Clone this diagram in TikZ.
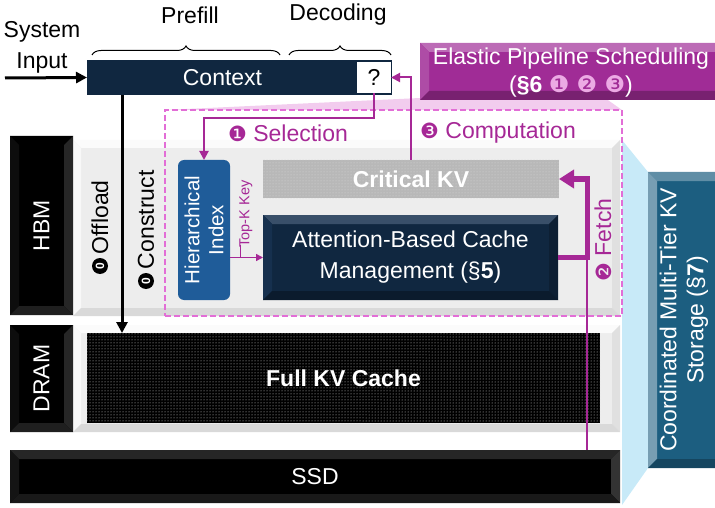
\documentclass[tikz,border=0pt]{standalone}
\usepackage{fontspec}
\setmainfont{Liberation Sans}
\newfontfamily\dv{DejaVu Sans}
\usetikzlibrary{arrows.meta,decorations.pathreplacing,patterns,calc}
\definecolor{navy}{RGB}{16,39,64}
\definecolor{navyb}{RGB}{22,48,78}
\definecolor{mag}{RGB}{166,40,150}
\definecolor{dashmag}{RGB}{226,110,214}
\definecolor{lpink}{RGB}{242,204,238}
\definecolor{circpink}{RGB}{236,170,228}
\definecolor{lblue}{RGB}{200,234,248}
\definecolor{tealc}{RGB}{28,94,128}
\definecolor{panelc}{RGB}{237,237,237}
\definecolor{idxblue}{RGB}{31,92,153}
\definecolor{elastic}{RGB}{160,44,150}
\newcommand\bev[6]{%
 \fill[#3] (#1.north west) -- (#1.north east) -- ($(#1.north east)+(-#2,#2)$) -- ($(#1.north west)+(#2,#2)$) -- cycle;
 \fill[#4] (#1.north west) -- (#1.south west) -- ($(#1.south west)+(#2,-#2)$) -- ($(#1.north west)+(#2,#2)$) -- cycle;
 \fill[#5] (#1.north east) -- (#1.south east) -- ($(#1.south east)+(-#2,-#2)$) -- ($(#1.north east)+(-#2,#2)$) -- cycle;
 \fill[#6] (#1.south west) -- (#1.south east) -- ($(#1.south east)+(-#2,-#2)$) -- ($(#1.south west)+(#2,-#2)$) -- cycle;
}
\tikzset{
  rbox/.style={anchor=north west, inner sep=0pt, outer sep=0pt},
  blackbox/.style={rbox, fill=black, text=white},
  panelbox/.style={rbox, fill=panelc},
  lbl/.style={inner sep=0pt, outer sep=0pt},
  zcirc/.style={circle, fill=black, text=white, inner sep=0pt, minimum size=16pt, font=\fontsize{12}{12}\selectfont\bfseries, rotate=90},
  blk/.style={line width=3pt, -{Triangle[length=11pt,width=11pt]}},
  magarrow/.style={draw=mag, line width=2pt, -{Triangle[length=9pt,width=9pt]}},
  magthin/.style={draw=mag, line width=1.5pt},
  fetch/.style={draw=mag, line width=5pt, -{Triangle[length=15pt,width=18pt]}},
  brc/.style={decorate, decoration={brace, amplitude=9pt}, line width=1pt},
}
\begin{document}
\begin{tikzpicture}[x=1pt,y=-1pt,font=\fontsize{23}{31}\selectfont]
\useasboundingbox (0,0) rectangle (715,508);
\clip (0,0) rectangle (715,508);
% projections
\fill[lpink] (420,98) -- (605,98) -- (622,110) -- (165,110) -- cycle;
\fill[lblue] (622,140) -- (648,172) -- (648,468) -- (622,505) -- cycle;
% panels
\node[panelbox, minimum width=547pt, minimum height=176pt] (hbmpanel) at (73,140) {};
\bev{hbmpanel}{8}{white!80!panelc}{white!60!panelc}{black!12}{black!15}
\node[panelbox, minimum width=547pt, minimum height=107pt] (drampanel) at (73,325) {};
\bev{drampanel}{8}{white!80!panelc}{white!60!panelc}{black!12}{black!15}
% tier labels
\node[blackbox, minimum width=63pt, minimum height=179pt] (hbm) at (10,136) {};
\bev{hbm}{9}{black}{black!95}{black!85}{black!88}
\node[lbl, rotate=90, text=white] at (hbm.center) {HBM};
\node[blackbox, minimum width=63pt, minimum height=107pt] (dram) at (10,325) {};
\bev{dram}{9}{black}{black!95}{black!85}{black!88}
\node[lbl, rotate=90, text=white] at (dram.center) {DRAM};
\node[blackbox, minimum width=610pt, minimum height=53pt] (ssd) at (10,450) {};
\bev{ssd}{9}{black!85}{black!92}{black!80}{black!90}
\node[lbl, text=white] at (ssd.center) {SSD};
% full KV cache
\node[rbox, fill=black, postaction={pattern=dots, pattern color=white!85!black}, minimum width=513pt, minimum height=90pt] (fullkv) at (87,333) {};
\node[lbl, text=white, font=\fontsize{23}{26}\selectfont\bfseries] at (fullkv.center) {Full KV Cache};
% dashed box
\node[rbox, draw=dashmag, dashed, line width=1.5pt, dash pattern=on 6pt off 3pt, minimum width=457pt, minimum height=206pt] (sched) at (165,110) {};
% inner boxes
\node[rbox, fill=idxblue, rounded corners=6pt, minimum width=52pt, minimum height=140pt] (idx) at (178,160) {};
\node[lbl, rotate=90, text=white, align=center, font=\fontsize{20.5}{24}\selectfont] at (idx.center) {Hierarchical\\Index};
\node[rbox, fill=black!28, postaction={pattern=dots, pattern color=white!85!black}, minimum width=296pt, minimum height=38pt] (crit) at (263,160) {};
\node[lbl, text=white, font=\fontsize{23}{26}\selectfont\bfseries] at (crit.center) {Critical KV};
\node[rbox, fill=navy, minimum width=295pt, minimum height=85pt] (attn) at (263,215) {};
\bev{attn}{9}{navyb!85!white}{navyb}{navy!80!black}{navy!70!black}
\node[lbl, text=white, align=center] at (attn.center) {Attention-Based Cache\\Management (§\textbf{5})};
% context
\node[rbox, fill=navy, minimum width=305pt, minimum height=35pt] (ctx) at (87,60) {};
\node[lbl, text=white] at ($(ctx.center)+(-17,0)$) {Context};
\node[rbox, fill=white, minimum width=34pt, minimum height=31pt] (q) at (357,62) {};
\node[lbl] at (q.center) {?};
% elastic
\node[rbox, fill=elastic, minimum width=305pt, minimum height=57pt] (elas) at (420,43) {};
\bev{elas}{9}{elastic!70!white}{elastic!85!white}{elastic!80!black}{elastic!75!black}
\node[lbl, text=white, align=center, font=\fontsize{23}{28}\selectfont] at (571,73) {Elastic Pipeline Scheduling\\(\textbf{§6} {\dv\fontsize{23}{20}\selectfont\color{circpink}❶ ❷ ❸})};
% storage
\node[rbox, fill=tealc, minimum width=77pt, minimum height=296pt] (stor) at (648,172) {};
\bev{stor}{9}{tealc!70!white}{tealc!60!white}{tealc!80!black}{tealc!75!black}
\node[lbl, rotate=90, text=white, align=center, font=\fontsize{23}{27}\selectfont] at (684,320) {Coordinated Multi-Tier KV\\Storage (§\textbf{7})};
% top labels
\node[lbl, align=center] (sysin) at (42,47) {System\\Input};
\node[lbl] (prefill) at (190,15) {Prefill};
\node[lbl] (decoding) at (338,15) {Decoding};
\draw[brc] (92,55) -- (280,55);
\draw[brc] (289,55) -- (391,55);
% arrows
\coordinate (inpt) at (5,78);
\draw[blk] (inpt) -- (ctx.west);
\coordinate (cx) at (122,0);
\draw[blk] (ctx.south -| cx) -- (fullkv.north -| cx);
\draw[magarrow] (q.south) -- ++(0,25) -| (idx.north);
\draw[magarrow] (crit.north) -- (crit.north |- q.east) -- (q.east);
\coordinate (fx) at (587,0);
\draw[magthin, line width=2pt] (ssd.north -| fx) -- (attn.east -| fx);
\draw[fetch] (attn.east) -| (fx |- crit.east) -- (crit.east);
\draw[magthin, -{Triangle[length=7pt,width=7pt]}] (attn.west -| idx.east) -- (attn.west);
\draw[magthin, line width=1pt] (240,245) -- (240,257);
% labels
\node[lbl, text=mag] at (288,133) {{\dv\fontsize{21}{20}\selectfont ❶} Selection};
\node[lbl, text=mag] at (498,133) {{\dv\fontsize{21}{20}\selectfont ❸} Computation};
\node[lbl, text=mag, rotate=90] at (603,240) {{\dv\fontsize{21}{20}\selectfont ❷} Fetch};
\node[lbl, rotate=90, anchor=west] (offl) at (100,254) {Offload};
\node[zcirc] (z1) at (100,266) {0};
\node[lbl, rotate=90, anchor=west] (constr) at (146,269) {Construct};
\node[zcirc] (z2) at (146,281) {0};
\node[lbl, rotate=90, text=mag, font=\fontsize{14.5}{16}\selectfont] at (246,214) {Top-K Key};
\end{tikzpicture}
\end{document}
